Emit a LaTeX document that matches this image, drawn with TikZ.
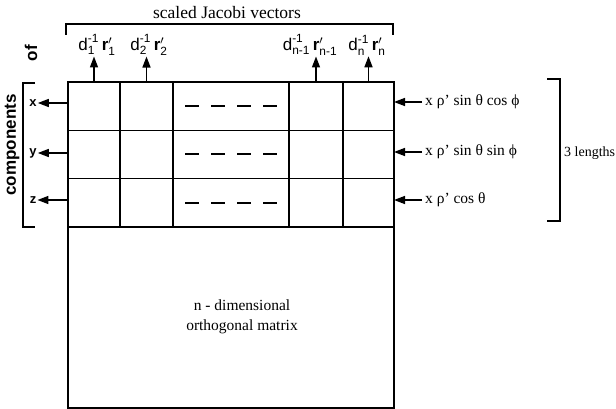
\documentclass[tikz,border=0pt]{standalone}
\usepackage{amsmath}
\usepackage{fontspec}
\setmainfont{Liberation Serif}
\setsansfont{Liberation Sans}
\usetikzlibrary{arrows.meta, positioning}

\begin{document}
\begin{tikzpicture}[x=1pt, y=-1pt,
  cell/.style={draw, line width=1.4pt, inner sep=0pt, outer sep=0pt, minimum height=48.3pt},
  vec/.style={font=\sffamily\fontsize{17}{17}\selectfont, inner sep=1pt},
  comp/.style={font=\sffamily\bfseries\fontsize{17}{17}\selectfont, rotate=90},
  rowlab/.style={font=\sffamily\bfseries\fontsize{13}{13}\selectfont, inner sep=1pt},
  len/.style={font=\fontsize{15.5}{15.5}\selectfont, anchor=west, inner sep=3pt},
  tip/.style={-{Triangle[length=11pt, width=8pt]}, line width=1.5pt},
  dashrow/.style={line width=2pt, dash pattern=on 14pt off 12pt},
  brack/.style={line width=2pt}]
\useasboundingbox (0,0) rectangle (616,409);

% the 3 x n block of components
\foreach \r/\y in {x/106.2, y/154.5, z/202.8} {
  \node[cell, minimum width=52pt]  (\r1) at (94,\y)    {};
  \node[cell, minimum width=53pt]  (\r2) at (146.5,\y) {};
  \node[cell, minimum width=116pt] (\r3) at (231,\y)   {};
  \node[cell, minimum width=54pt]  (\r4) at (316,\y)   {};
  \node[cell, minimum width=51pt]  (\r5) at (368.5,\y) {};
  \draw[dashrow] ([xshift=12pt]\r3.west) -- ([xshift=-12pt]\r3.east);
}

% rest of the orthogonal matrix
\node[draw, line width=1.1pt, minimum width=326pt, minimum height=181pt, inner sep=0pt] (orth) at (231,317.5) {};
\node[align=center, font=\fontsize{15.5}{20}\selectfont] (orthtext) at (242,317)
      {n - dimensional\\orthogonal matrix};

% scaled Jacobi vectors on top
\node[vec] (v1) at (97,45)  {$\text{d}^{\text{-1}}_{\text{1}}\,\textbf{r}'_{\text{1}}$};
\node[vec] (v2) at (149,45) {$\text{d}^{\text{-1}}_{\text{2}}\,\textbf{r}'_{\text{2}}$};
\node[vec] (v4) at (310,45) {$\text{d}^{\text{-1}}_{\text{n-1}}\,\textbf{r}'_{\text{n-1}}$};
\node[vec] (v5) at (367,45) {$\text{d}^{\text{-1}}_{\text{n}}\,\textbf{r}'_{\text{n}}$};
\draw[tip] (x1.north) -- (x1.north |- v1.south);
\draw[tip] (x2.north) -- (x2.north |- v2.south);
\draw[tip] (x4.north) -- (x4.north |- v4.south);
\draw[tip] (x5.north) -- (x5.north |- v5.south);

\node[font=\fontsize{17.5}{17.5}\selectfont] (title) at (227,13) {scaled Jacobi vectors};
\draw[line width=1.5pt] (66,35) -- (66,24) -- (393,24) -- (393,35);

% components on the left
\node[comp] (cmp) at (12,145) {components};
\node[comp] (of) at (31,53) {of};
\draw[brack] (35,83) -- (23,83) -- (23,227) -- (35,227);
\node[rowlab] (lx) at (33,103) {x};
\node[rowlab] (ly) at (33,153) {y};
\node[rowlab] (lz) at (33,200) {z};
\draw[tip] (x1.west |- lx.east) -- (lx.east);
\draw[tip] (y1.west |- ly.east) -- (ly.east);
\draw[tip] (z1.west |- lz.east) -- (lz.east);

% lengths on the right
\node[len] (rx) at (422,102) {x ρ' sin θ cos ϕ};
\node[len] (ry) at (422,152) {x ρ' sin θ sin ϕ};
\node[len] (rz) at (422,200) {x ρ' cos θ};
\draw[tip] (rx.west) -- (x5.east |- rx.west);
\draw[tip] (ry.west) -- (y5.east |- ry.west);
\draw[tip] (rz.west) -- (z5.east |- rz.west);
\draw[line width=2.5pt] (547,79) -- (560,79) -- (560,221) -- (547,221);
\node[font=\fontsize{14}{14}\selectfont, anchor=west, inner sep=1pt] (three) at (563,153) {3 lengths};
\end{tikzpicture}
\end{document}
